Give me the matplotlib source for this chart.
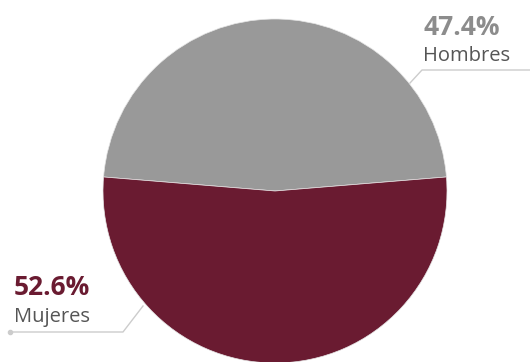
import matplotlib as mpl
mpl.use('Agg')
import matplotlib.pyplot as plt

labels = ['Hombres', 'Mujeres']
values = [47.4, 52.6]
colors = ['#999999', '#6a1b31']
text_colors = ['#8c8c8c', '#6a1b31']

W, H = 530, 362
fig = plt.figure(figsize=(W / 100, H / 100), dpi=100)
ax = fig.add_axes([0, 0, 1, 1])

# gray slice centred on top
start = 90 - values[0] / sum(values) * 360 / 2
wedges, _ = ax.pie(values, colors=colors, startangle=start, counterclock=True,
                   center=(275, 191), radius=172, frame=True,
                   wedgeprops=dict(linewidth=0.5, edgecolor='#e6e6e6'))
ax.set_xlim(0, W)
ax.set_ylim(H, 0)
ax.set_aspect('equal')
ax.axis('off')
# y axis is flipped, so mirror the wedges to keep gray on top
for w in wedges:
    t1, t2 = w.theta1, w.theta2
    w.set_theta1(-t2)
    w.set_theta2(-t1)

font = 'Open Sans'
ax.text(423, 35, '%.1f%%' % values[0], color=text_colors[0], fontsize=19,
        fontweight='bold', family=font, va='baseline')
ax.text(423, 61, labels[0], color='#555555', fontsize=14.5, family=font, va='baseline')
ax.plot([410, 422, 530], [83, 70, 70], color='#cccccc', lw=1)

ax.text(14, 295, '%.1f%%' % values[1], color=text_colors[1], fontsize=19,
        fontweight='bold', family=font, va='baseline')
ax.text(14, 322, labels[1], color='#555555', fontsize=14.5, family=font, va='baseline')
ax.plot([10, 123, 143], [332, 332, 306], color='#cccccc', lw=1)
ax.plot([10], [332], 'o', color='#cccccc', markersize=3)

plt.savefig('out.png', dpi=100)
